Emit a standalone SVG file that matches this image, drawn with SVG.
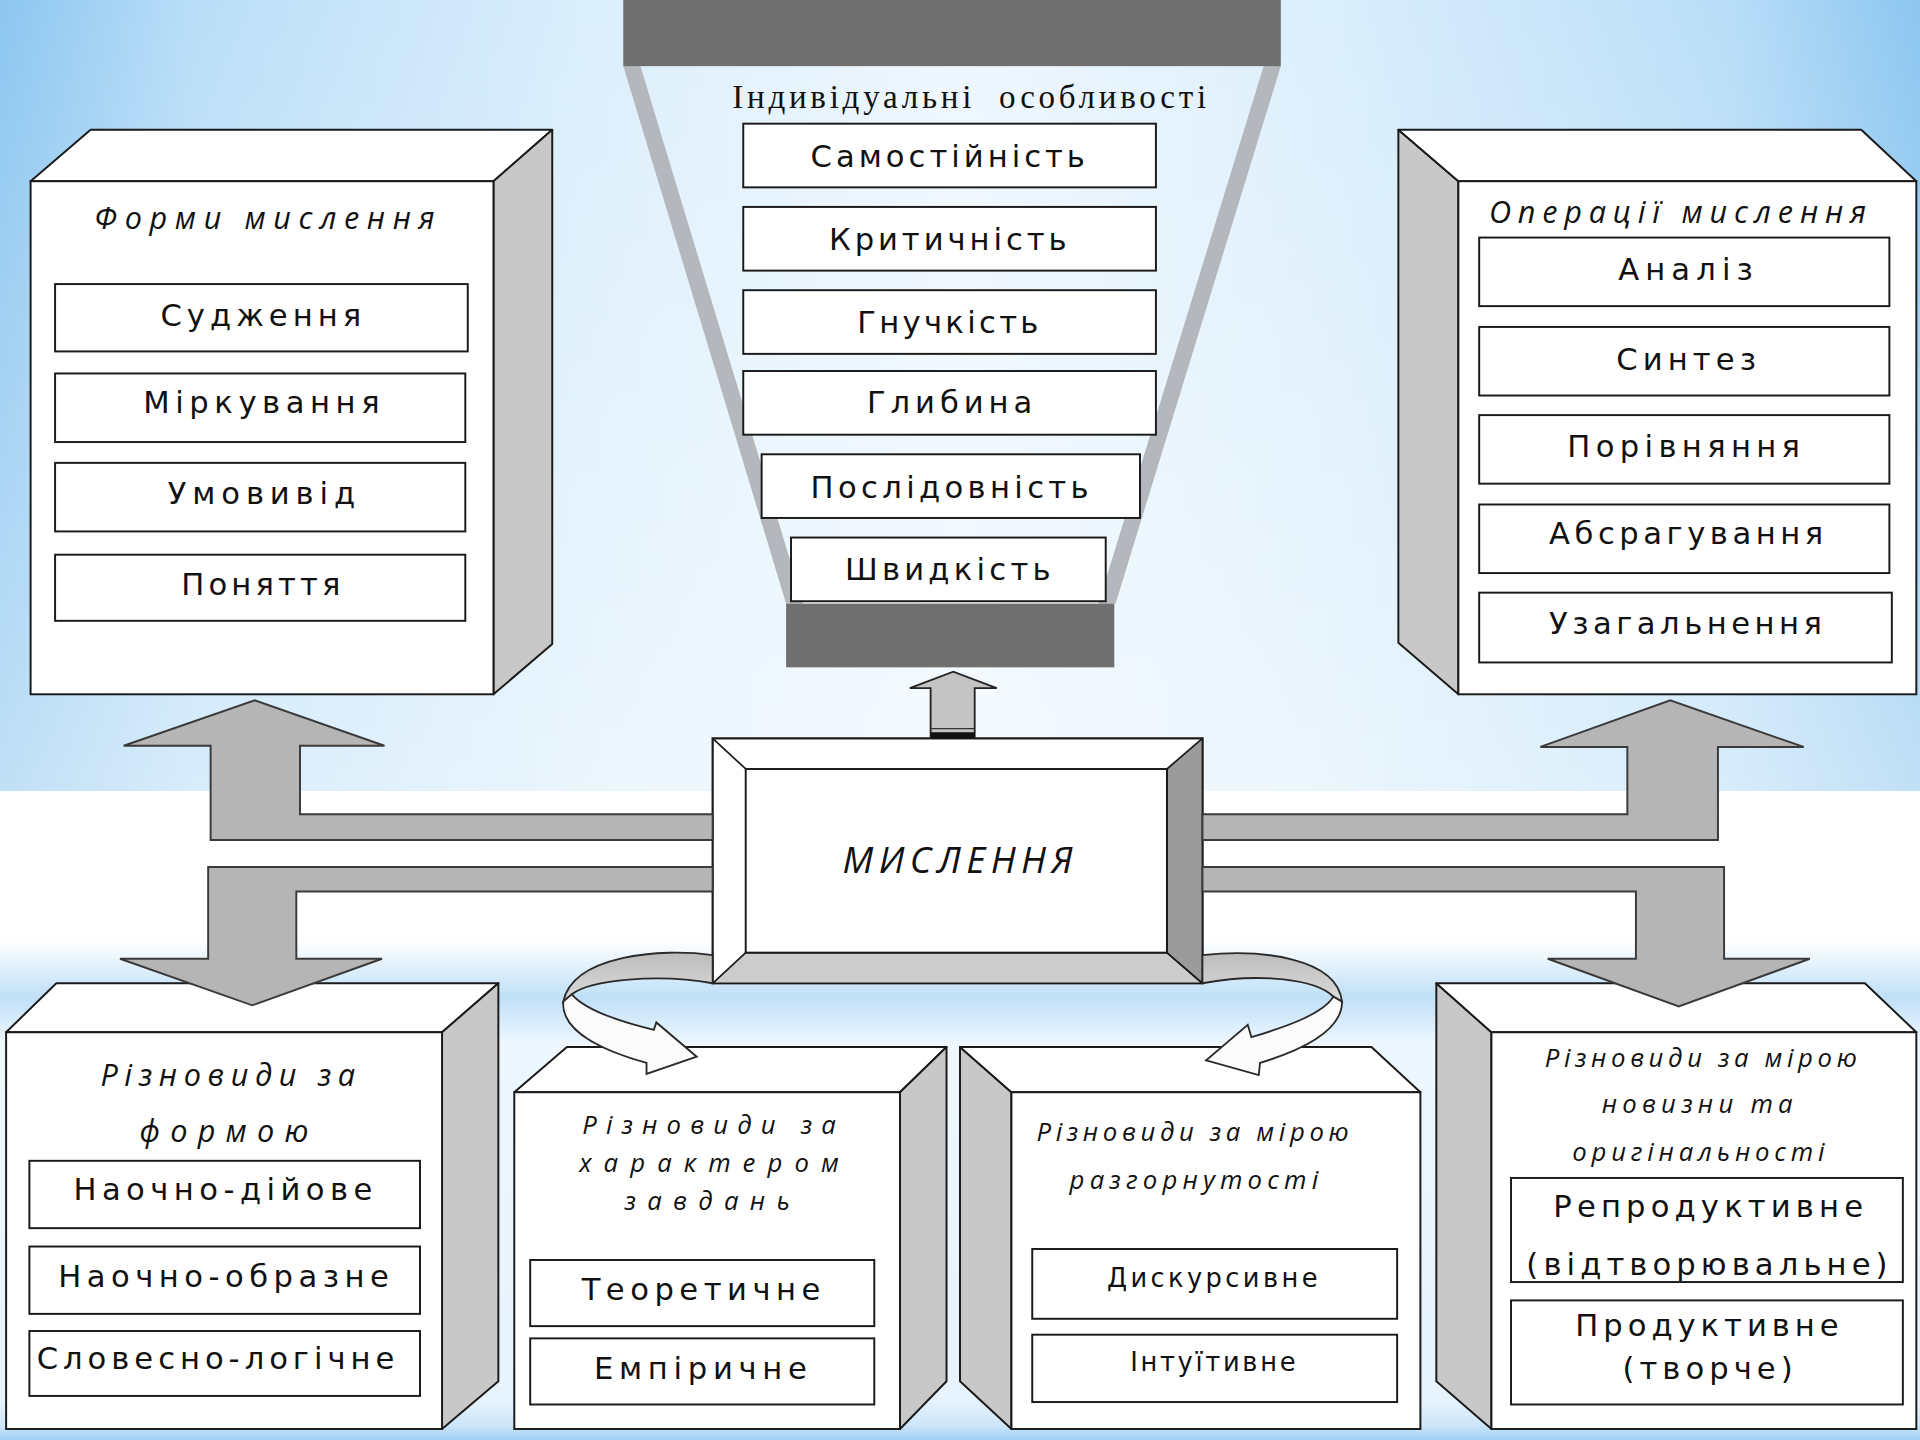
<svg xmlns="http://www.w3.org/2000/svg" width="1920" height="1440" viewBox="0 0 1920 1440">
<defs>
<linearGradient id="bgTopH" x1="0" y1="0" x2="1" y2="0">
<stop offset="0" stop-color="#8cc6f0"/>
<stop offset="0.1" stop-color="#b9def8"/>
<stop offset="0.3" stop-color="#daeefc"/>
<stop offset="0.5" stop-color="#eef7fe"/>
<stop offset="0.7" stop-color="#daeefc"/>
<stop offset="0.9" stop-color="#b9def8"/>
<stop offset="1" stop-color="#8cc6f0"/>
</linearGradient>
<linearGradient id="bgTopV" x1="0" y1="0" x2="0" y2="1">
<stop offset="0" stop-color="#ffffff" stop-opacity="0"/>
<stop offset="1" stop-color="#ffffff" stop-opacity="0.45"/>
</linearGradient>
<linearGradient id="band" x1="0" y1="0" x2="0" y2="1">
<stop offset="0" stop-color="#ffffff"/>
<stop offset="0.55" stop-color="#bfe0f8"/>
<stop offset="1" stop-color="#eef7fe"/>
</linearGradient>
<linearGradient id="bgBot" x1="0" y1="0" x2="0" y2="1">
<stop offset="0" stop-color="#eef7fe"/>
<stop offset="0.9" stop-color="#e6f3fd"/>
<stop offset="0.96" stop-color="#cfe7fa"/>
<stop offset="1" stop-color="#9fd0f4"/>
</linearGradient>
<linearGradient id="curveGray" x1="0" y1="0" x2="0" y2="1">
<stop offset="0" stop-color="#bcbcbc"/>
<stop offset="1" stop-color="#dcdcdc"/>
</linearGradient>
</defs>
<style>
.box{fill:#ffffff;stroke:#1a1a1a;stroke-width:1.6}
.top{fill:#ffffff;stroke:#1a1a1a;stroke-width:1.6;stroke-linejoin:round}
.side{fill:#c8c8c8;stroke:#1a1a1a;stroke-width:1.6;stroke-linejoin:round}
.dark{fill:#6f6f6f}
.leg{fill:#b4b8bc}
.arrow{fill:#b5b5b5;stroke:#3a3a3a;stroke-width:1.6}
.curve{fill:url(#curveGray);stroke:#2a2a2a;stroke-width:1.5}
.curvew{fill:#fbfbfb;stroke:#2a2a2a;stroke-width:1.5}
.r{font-family:"DejaVu Sans","Noto Sans",sans-serif;font-size:25px;fill:#111111;text-anchor:middle}
.rs{font-size:21px}
.i{font-family:"Open Sans","DejaVu Sans",sans-serif;font-style:italic;font-size:25px;fill:#111111;text-anchor:middle}
.is{font-size:21px}
.ib{font-size:30px}
.sf{font-family:"Liberation Serif","DejaVu Serif",serif;font-size:27px;fill:#111111;text-anchor:middle}
</style>
<g transform="scale(1.2244898)">
<g id="background">
<rect x="0" y="0" width="1568" height="646" fill="url(#bgTopH)"/>
<rect x="0" y="0" width="1568" height="646" fill="url(#bgTopV)"/>
<rect x="0" y="646" width="1568" height="122" fill="#ffffff"/>
<rect x="0" y="768" width="1568" height="84" fill="url(#band)"/>
<rect x="0" y="852" width="1568" height="324" fill="url(#bgBot)"/>
</g>

<g id="individual-features">
<polygon class="leg" points="509,54 523,54 656,493 642,493"/>
<polygon class="leg" points="1032,54 1046,54 911,493 897,493"/>
<rect class="dark" x="509" y="0" width="537" height="54"/>
<rect class="dark" x="642" y="493" width="268" height="52"/>
<text class="sf" x="791.5" y="88" textLength="387" lengthAdjust="spacing" xml:space="preserve">Індивідуальні  особливості</text>
<g id="samostiinist"><rect class="box" x="607" y="101" width="337" height="52"/><text class="r" x="774" y="136" textLength="224" lengthAdjust="spacing">Самостійність</text></g>
<g id="krytychnist"><rect class="box" x="607" y="169" width="337" height="52"/><text class="r" x="774" y="204" textLength="194" lengthAdjust="spacing">Критичність</text></g>
<g id="hnuchkist"><rect class="box" x="607" y="237" width="337" height="52"/><text class="r" x="774" y="272" textLength="148" lengthAdjust="spacing">Гнучкість</text></g>
<g id="hlybyna"><rect class="box" x="607" y="303" width="337" height="52"/><text class="r" x="775.5" y="337.5" textLength="135" lengthAdjust="spacing">Глибина</text></g>
<g id="poslidovnist"><rect class="box" x="622" y="371" width="309" height="52"/><text class="r" x="775.5" y="407" textLength="227" lengthAdjust="spacing">Послідовність</text></g>
<g id="shvydkist"><rect class="box" x="646" y="439" width="257" height="52"/><text class="r" x="774" y="474" textLength="168" lengthAdjust="spacing">Швидкість</text></g>
</g>

<g id="forms">
<polygon class="top" points="25,148 74,106 451,106 403,148"/>
<polygon class="side" points="403,148 451,106 451,526 403,567"/>
<rect class="box" x="25" y="148" width="378" height="419"/>
<text class="i" x="216" y="187" textLength="278" lengthAdjust="spacing">Форми мислення</text>
<rect class="box" x="45" y="232" width="337" height="55"/><text class="r" x="213" y="266" textLength="164" lengthAdjust="spacing">Судження</text>
<rect class="box" x="45" y="305" width="335" height="56"/><text class="r" x="213.5" y="337.5" textLength="193" lengthAdjust="spacing">Міркування</text>
<rect class="box" x="45" y="378" width="335" height="56"/><text class="r" x="213.5" y="412" textLength="153" lengthAdjust="spacing">Умовивід</text>
<rect class="box" x="45" y="453" width="335" height="54"/><text class="r" x="213" y="486" textLength="130" lengthAdjust="spacing">Поняття</text>
</g>

<g id="operations">
<polygon class="side" points="1142,106 1191,148 1191,567 1142,525"/>
<polygon class="top" points="1142,106 1520,106 1565,148 1191,148"/>
<rect class="box" x="1191" y="148" width="374" height="419"/>
<text class="i" x="1370" y="182" textLength="308" lengthAdjust="spacing">Операції мислення</text>
<rect class="box" x="1208" y="194" width="335" height="56"/><text class="r" x="1376.5" y="229" textLength="110" lengthAdjust="spacing">Аналіз</text>
<rect class="box" x="1208" y="267" width="335" height="56"/><text class="r" x="1377" y="302" textLength="114" lengthAdjust="spacing">Синтез</text>
<rect class="box" x="1208" y="339" width="335" height="56"/><text class="r" x="1375" y="373" textLength="190" lengthAdjust="spacing">Порівняння</text>
<rect class="box" x="1208" y="412" width="335" height="56"/><text class="r" x="1377" y="444" textLength="224" lengthAdjust="spacing">Абсрагування</text>
<rect class="box" x="1208" y="484" width="337" height="57"/><text class="r" x="1376.5" y="517.5" textLength="223" lengthAdjust="spacing">Узагальнення</text>
</g>

<g id="by-form">
<polygon class="top" points="5,843 46,803 407,803 361,843"/>
<polygon class="side" points="361,843 407,803 407,1128 361,1167"/>
<rect class="box" x="5" y="843" width="356" height="324"/>
<text class="i" x="186" y="887" textLength="208" lengthAdjust="spacing">Різновиди за</text>
<text class="i" x="183" y="933" textLength="138" lengthAdjust="spacing">формою</text>
<rect class="box" x="24" y="948" width="319" height="55"/><text class="r" x="182" y="980" textLength="244" lengthAdjust="spacing">Наочно-дійове</text>
<rect class="box" x="24" y="1018" width="319" height="55"/><text class="r" x="182.5" y="1051" textLength="270" lengthAdjust="spacing">Наочно-образне</text>
<rect class="box" x="24" y="1087" width="319" height="53"/><text class="r" x="176" y="1118" textLength="292" lengthAdjust="spacing">Словесно-логічне</text>
</g>

<g id="by-task">
<polygon class="top" points="420,892 463,855 773,855 735,892"/>
<polygon class="side" points="735,892 773,855 773,1128 735,1167"/>
<rect class="box" x="420" y="892" width="315" height="275"/>
<text class="i is" x="579" y="926" textLength="207" lengthAdjust="spacing">Різновиди за</text>
<text class="i is" x="579" y="957" textLength="212" lengthAdjust="spacing">характером</text>
<text class="i is" x="577.5" y="988" textLength="135" lengthAdjust="spacing">завдань</text>
<rect class="box" x="433" y="1029" width="281" height="54"/><text class="r" x="572.5" y="1062" textLength="195" lengthAdjust="spacing">Теоретичне</text>
<rect class="box" x="433" y="1093" width="281" height="54"/><text class="r" x="572" y="1126" textLength="174" lengthAdjust="spacing">Емпіричне</text>
</g>

<g id="by-expansion">
<polygon class="side" points="784,855 826,892 826,1167 784,1128"/>
<polygon class="top" points="784,855 1120,855 1160,892 826,892"/>
<rect class="box" x="826" y="892" width="334" height="275"/>
<text class="i is" x="974" y="932" textLength="255" lengthAdjust="spacing">Різновиди за мірою</text>
<text class="i is" x="975" y="971" textLength="203" lengthAdjust="spacing">разгорнутості</text>
<rect class="box" x="843" y="1020" width="298" height="57"/><text class="r rs" x="990" y="1051" textLength="172" lengthAdjust="spacing">Дискурсивне</text>
<rect class="box" x="843" y="1090" width="298" height="55"/><text class="r rs" x="990.5" y="1120" textLength="135" lengthAdjust="spacing">Інтуїтивне</text>
</g>

<g id="by-novelty">
<polygon class="side" points="1173,803 1218,843 1218,1167 1173,1128"/>
<polygon class="top" points="1173,803 1523,803 1565,843 1218,843"/>
<rect class="box" x="1218" y="843" width="347" height="324"/>
<text class="i is" x="1389" y="871" textLength="255" lengthAdjust="spacing">Різновиди за мірою</text>
<text class="i is" x="1386" y="909" textLength="156" lengthAdjust="spacing">новизни та</text>
<text class="i is" x="1387" y="948" textLength="206" lengthAdjust="spacing">оригінальності</text>
<rect class="box" x="1234" y="962" width="320" height="85"/>
<text class="r" x="1395" y="994" textLength="253" lengthAdjust="spacing">Репродуктивне</text>
<text class="r" x="1394" y="1041" textLength="295" lengthAdjust="spacing">(відтворювальне)</text>
<rect class="box" x="1234" y="1062" width="320" height="85"/>
<text class="r" x="1394" y="1091" textLength="215" lengthAdjust="spacing">Продуктивне</text>
<text class="r" x="1394.5" y="1126" textLength="139" lengthAdjust="spacing">(творче)</text>
</g>

<g id="thinking">
<rect x="582" y="603" width="400" height="200" fill="#ffffff" stroke="#1a1a1a" stroke-width="1.8"/>
<polygon points="582,803 609,778 953,778 982,803" fill="#cccccc" stroke="#1a1a1a" stroke-width="1.4" stroke-linejoin="round"/>
<polygon points="982,603 953,628 953,778 982,803" fill="#9b9b9b" stroke="#1a1a1a" stroke-width="1.4" stroke-linejoin="round"/>
<line x1="582" y1="603" x2="609" y2="628" stroke="#1a1a1a" stroke-width="1.4"/>
<rect class="box" x="609" y="628" width="344" height="150"/>
<text class="i ib" x="782" y="713" textLength="188" lengthAdjust="spacing">МИСЛЕННЯ</text>
</g>

<g id="connectors">
<path class="arrow" d="M582,665 L245,665 L245,609 L314,609 L208,572 L101,609 L172,609 L172,686 L582,686 Z"/>
<path class="arrow" d="M582,708 L170,708 L170,783 L98,783 L206,821 L312,783 L242,783 L242,728 L582,728 Z"/>
<path class="arrow" d="M982,665 L1329,665 L1329,610 L1258,610 L1364,572 L1473,610 L1403,610 L1403,686 L982,686 Z"/>
<path class="arrow" d="M982,708 L1408,708 L1408,783 L1478,783 L1371,822 L1264,783 L1336,783 L1336,728 L982,728 Z"/>
<path d="M760,602 L760,562 L743,562 L778.5,548.5 L814,562 L796,562 L796,602 Z" fill="#c4c4c4" stroke="#222222" stroke-width="1.5"/>
<line x1="760" y1="595" x2="796" y2="595" stroke="#333333" stroke-width="1"/>
<rect x="760" y="598" width="36" height="5" fill="#111111"/>
<path class="curve" d="M582,780 C540,774 468,780 460,818 L467,812 C482,800 538,795 582,803 Z"/>
<path class="curvew" d="M460,818 C458,842 492,858 528,868 L528,877 L569,863 L536,835 L534,841 C505,834 478,825 467,812 Z"/>
<path class="curve" d="M982,780 C1030,775 1092,782 1096,818 L1089,814 C1075,800 1030,794 982,803 Z"/>
<path class="curvew" d="M1096,818 C1096,842 1062,858 1029,868 L1028,878 L985,866 L1019,837 L1022,847 C1052,838 1080,828 1089,814 Z"/>
</g>
</g>
</svg>
